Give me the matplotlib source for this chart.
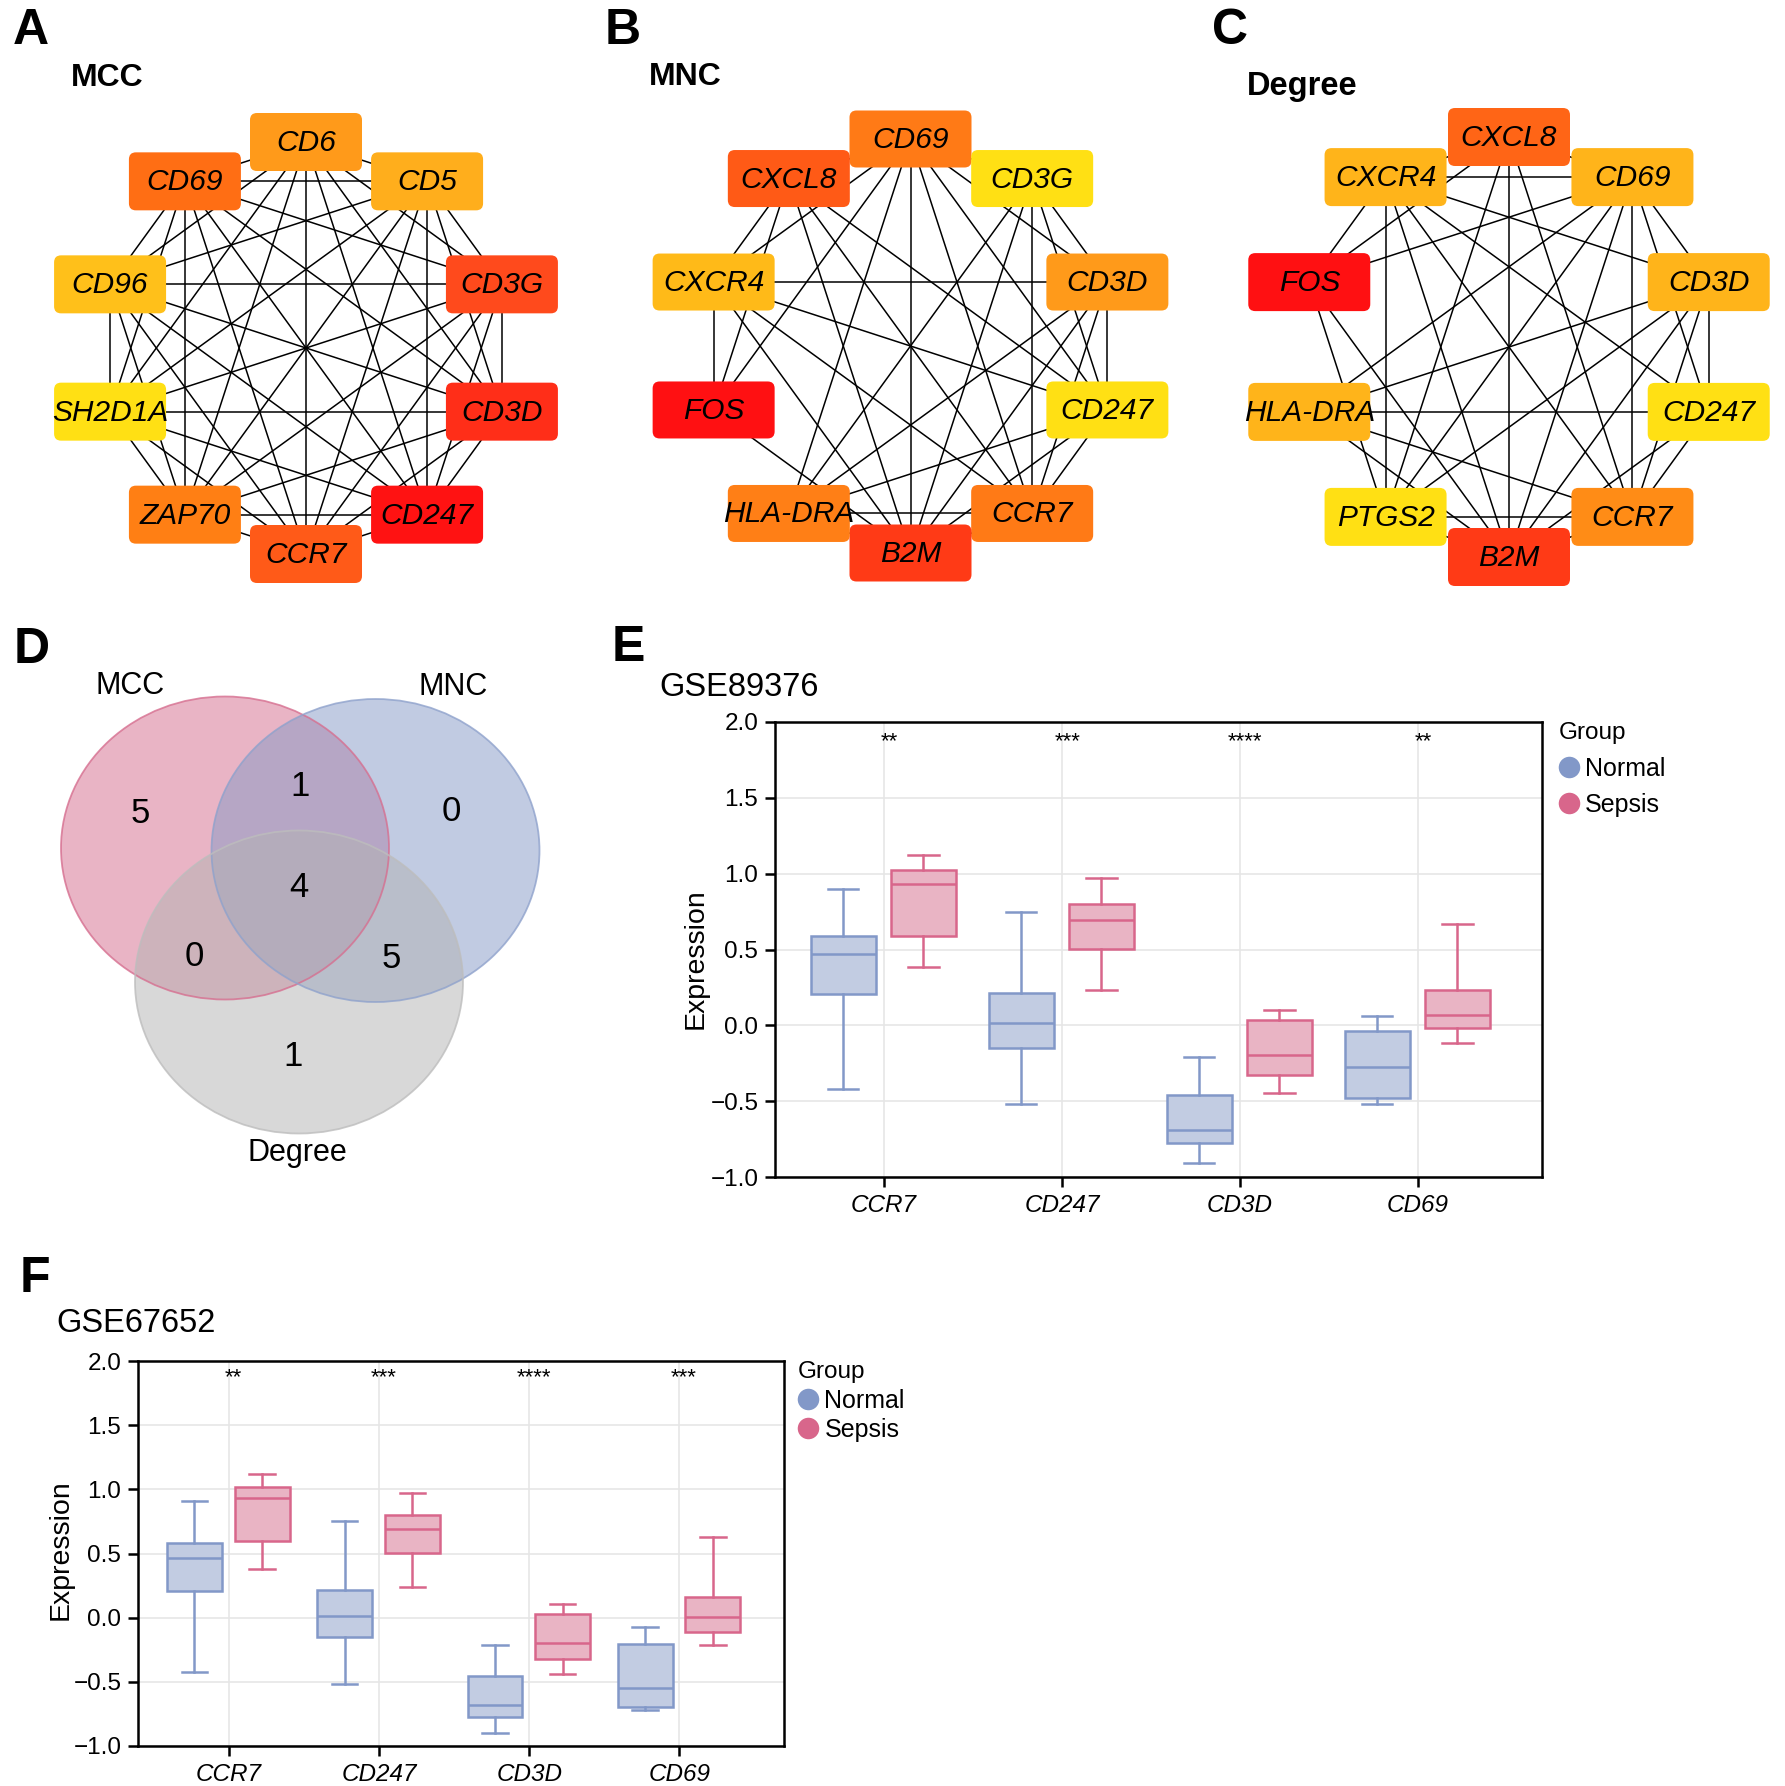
import numpy as np
import matplotlib
matplotlib.use('Agg')
import matplotlib.pyplot as plt
from matplotlib.patches import FancyBboxPatch, Ellipse
from matplotlib.lines import Line2D

plt.rcParams['font.family'] = ['Liberation Sans', 'DejaVu Sans']

# ---------------- data ----------------
mcc_genes = ['CD6', 'CD5', 'CD3G', 'CD3D', 'CD247', 'CCR7', 'ZAP70', 'SH2D1A', 'CD96', 'CD69']
mcc_colors = ['#FF9A1A', '#FFAE1C', '#FF4A1C', '#FF2E18', '#FF1212', '#FF5A18', '#FF7F14', '#FFE014', '#FFC01A', '#FF6E14']
mcc_edges = [
    ('CD6', 'CD5'), ('CD6', 'CD3G'), ('CD6', 'CD3D'), ('CD6', 'CD247'), ('CD6', 'CCR7'), ('CD6', 'ZAP70'),
    ('CD6', 'SH2D1A'), ('CD6', 'CD96'), ('CD6', 'CD69'),
    ('CD5', 'CD3G'), ('CD5', 'CD3D'), ('CD5', 'CD247'), ('CD5', 'CCR7'), ('CD5', 'ZAP70'), ('CD5', 'SH2D1A'),
    ('CD5', 'CD96'), ('CD5', 'CD69'),
    ('CD3G', 'CD3D'), ('CD3G', 'CD247'), ('CD3G', 'CCR7'), ('CD3G', 'ZAP70'), ('CD3G', 'SH2D1A'), ('CD3G', 'CD96'),
    ('CD3G', 'CD69'),
    ('CD3D', 'CD247'), ('CD3D', 'CCR7'), ('CD3D', 'ZAP70'), ('CD3D', 'SH2D1A'), ('CD3D', 'CD96'), ('CD3D', 'CD69'),
    ('CD247', 'CCR7'), ('CD247', 'ZAP70'), ('CD247', 'SH2D1A'), ('CD247', 'CD96'), ('CD247', 'CD69'),
    ('CCR7', 'ZAP70'), ('CCR7', 'SH2D1A'), ('CCR7', 'CD96'), ('CCR7', 'CD69'),
    ('ZAP70', 'SH2D1A'), ('ZAP70', 'CD96'), ('ZAP70', 'CD69'),
    ('SH2D1A', 'CD96'), ('SH2D1A', 'CD69'),
    ('CD96', 'CD69'),
]

mnc_genes = ['CD69', 'CD3G', 'CD3D', 'CD247', 'CCR7', 'B2M', 'HLA-DRA', 'FOS', 'CXCR4', 'CXCL8']
mnc_colors = ['#FF7A16', '#FFE014', '#FF9A1A', '#FFE014', '#FF7A16', '#FF3A16', '#FF7F16', '#FF1012', '#FFBA18', '#FF5A16']
mnc_edges = [
    ('CD69', 'CD3G'), ('CD69', 'CD3D'), ('CD69', 'CD247'), ('CD69', 'CCR7'), ('CD69', 'B2M'), ('CD69', 'HLA-DRA'),
    ('CD69', 'FOS'), ('CD69', 'CXCR4'), ('CD69', 'CXCL8'),
    ('CD3G', 'CD3D'), ('CD3G', 'CD247'), ('CD3G', 'CCR7'), ('CD3G', 'B2M'), ('CD3G', 'HLA-DRA'),
    ('CD3D', 'CD247'), ('CD3D', 'CCR7'), ('CD3D', 'B2M'), ('CD3D', 'HLA-DRA'), ('CD3D', 'CXCR4'),
    ('CD247', 'CCR7'), ('CD247', 'B2M'), ('CD247', 'HLA-DRA'), ('CD247', 'CXCR4'), ('CD247', 'CXCL8'),
    ('CCR7', 'B2M'), ('CCR7', 'HLA-DRA'), ('CCR7', 'CXCR4'), ('CCR7', 'CXCL8'),
    ('B2M', 'HLA-DRA'), ('B2M', 'FOS'), ('B2M', 'CXCR4'), ('B2M', 'CXCL8'),
    ('FOS', 'CXCR4'), ('FOS', 'CXCL8'),
    ('CXCR4', 'CXCL8'),
]

deg_genes = ['CXCL8', 'CD69', 'CD3D', 'CD247', 'CCR7', 'B2M', 'PTGS2', 'HLA-DRA', 'FOS', 'CXCR4']
deg_colors = ['#FF6516', '#FFB41A', '#FFB41A', '#FFE014', '#FF8C16', '#FF3A16', '#FFE014', '#FFB41A', '#FF1012', '#FFB41A']
deg_edges = [
    ('CXCL8', 'CD69'), ('CXCL8', 'CCR7'), ('CXCL8', 'B2M'), ('CXCL8', 'PTGS2'), ('CXCL8', 'FOS'), ('CXCL8', 'CXCR4'),
    ('CD69', 'CD3D'), ('CD69', 'CD247'), ('CD69', 'CCR7'), ('CD69', 'B2M'), ('CD69', 'PTGS2'), ('CD69', 'HLA-DRA'),
    ('CD69', 'FOS'), ('CD69', 'CXCR4'),
    ('CD3D', 'CD247'), ('CD3D', 'CCR7'), ('CD3D', 'B2M'), ('CD3D', 'PTGS2'), ('CD3D', 'HLA-DRA'), ('CD3D', 'CXCR4'),
    ('CD247', 'CCR7'), ('CD247', 'B2M'), ('CD247', 'HLA-DRA'), ('CD247', 'CXCR4'),
    ('CCR7', 'B2M'), ('CCR7', 'PTGS2'), ('CCR7', 'HLA-DRA'), ('CCR7', 'CXCR4'),
    ('B2M', 'PTGS2'), ('B2M', 'HLA-DRA'), ('B2M', 'FOS'), ('B2M', 'CXCR4'),
    ('PTGS2', 'FOS'), ('PTGS2', 'CXCR4'),
    ('FOS', 'CXCR4'),
]

venn_sets = ['MCC', 'MNC', 'Degree']
# region counts: MCC only, MCC&MNC, MNC only, all three, MCC&Degree, MNC&Degree, Degree only
venn_counts = [5, 1, 0, 4, 0, 5, 1]

box_genes = ['CCR7', 'CD247', 'CD3D', 'CD69']
groups = ['Normal', 'Sepsis']
# GSE89376: [whislo, q1, median, q3, whishi]
e_normal = [[-0.42, 0.205, 0.469, 0.586, 0.90],
            [-0.52, -0.152, 0.015, 0.211, 0.744],
            [-0.905, -0.775, -0.687, -0.458, -0.211],
            [-0.52, -0.476, -0.275, -0.035, 0.062]]
e_sepsis = [[0.383, 0.590, 0.934, 1.024, 1.121],
            [0.233, 0.502, 0.694, 0.797, 0.971],
            [-0.443, -0.328, -0.196, 0.033, 0.101],
            [-0.117, -0.015, 0.066, 0.231, 0.670]]
e_sig = ['**', '***', '****', '**']
# GSE67652
f_normal = [[-0.422, 0.206, 0.466, 0.581, 0.906],
            [-0.513, -0.151, 0.013, 0.214, 0.750],
            [-0.901, -0.776, -0.682, -0.453, -0.211],
            [-0.716, -0.693, -0.547, -0.206, -0.073]]
f_sepsis = [[0.380, 0.594, 0.930, 1.018, 1.120],
            [0.237, 0.505, 0.690, 0.799, 0.971],
            [-0.440, -0.323, -0.198, 0.026, 0.107],
            [-0.211, -0.112, 0.005, 0.161, 0.630]]
f_sig = ['**', '***', '****', '***']
y_ticks = [-1.0, -0.5, 0.0, 0.5, 1.0, 1.5, 2.0]

# ---------------- figure ----------------
W, H = 1785, 1786
fig = plt.figure(figsize=(W / 100, H / 100), dpi=100)


def px_axes(x0, y0, x1, y1):
    ax = fig.add_axes([x0 / W, 1 - y1 / H, (x1 - x0) / W, (y1 - y0) / H])
    ax.set_xlim(x0, x1)
    ax.set_ylim(y1, y0)
    ax.axis('off')
    return ax


def ftext(x, y, s, **kw):
    fig.text(x / W, 1 - y / H, s, **kw)


def draw_network(ax, cx, cy, R, genes, colors, edges, bw, bh):
    n = len(genes)
    ang = np.pi / 2 - 2 * np.pi * np.arange(n) / n
    pos = {g: (cx + R * np.cos(a), cy - R * np.sin(a)) for g, a in zip(genes, ang)}
    for a, b in edges:
        ax.plot([pos[a][0], pos[b][0]], [pos[a][1], pos[b][1]], color='black', lw=1.1, zorder=1)
    for g, c in zip(genes, colors):
        x, y = pos[g]
        ax.add_patch(FancyBboxPatch((x - bw / 2, y - bh / 2), bw, bh,
                                    boxstyle='round,pad=0,rounding_size=7', fc=c, ec='none', zorder=2))
        ax.text(x, y + 1, g, ha='center', va='center', fontsize=21.5, style='italic', zorder=3)


# panel letters
for lab, (x, y) in zip('ABCDEF', [(31, 31), (623, 31), (1230, 31), (32, 650), (628, 648), (35, 1279)]):
    ftext(x, y, lab, fontsize=36, fontweight='bold', ha='center', va='center')

# networks
axA = px_axes(0, 90, 620, 620)
draw_network(axA, 306, 348, 206, mcc_genes, mcc_colors, mcc_edges, 112, 58)
ftext(71, 78, 'MCC', fontsize=23, fontweight='bold', ha='left', va='center')

axB = px_axes(620, 90, 1230, 620)
draw_network(axB, 910.5, 346, 207, mnc_genes, mnc_colors, mnc_edges, 122, 57)
ftext(649, 77, 'MNC', fontsize=23, fontweight='bold', ha='left', va='center')

axC = px_axes(1230, 90, 1785, 620)
draw_network(axC, 1509, 347, 210, deg_genes, deg_colors, deg_edges, 122, 58)
ftext(1247, 86, 'Degree', fontsize=23.5, fontweight='bold', ha='left', va='center')

# Venn
axD = px_axes(0, 640, 620, 1180)
venn_geom = [(225, 848, '#D46A8C', '#D66F90'), (375.5, 850.5, '#8599C6', '#8FA2CC'), (299, 982, '#B3B3B3', '#BDBDBD')]
for (cx, cy, fc, ec) in venn_geom:
    axD.add_patch(Ellipse((cx, cy), 328, 303, fc=fc, ec='none', alpha=0.5, zorder=1))
for (cx, cy, fc, ec) in venn_geom:
    axD.add_patch(Ellipse((cx, cy), 328, 303, fc='none', ec=ec, lw=1.3, alpha=0.8, zorder=2))
count_pos = [(140, 814), (300, 787), (451, 812), (299, 888), (194, 956), (391, 959), (293, 1056)]
for (x, y), c in zip(count_pos, venn_counts):
    axD.text(x, y, str(c), fontsize=25, ha='center', va='center', zorder=3)
for (x, y), s in zip([(130, 686), (453, 687), (297, 1153)], venn_sets):
    axD.text(x, y, s, fontsize=22, ha='center', va='center', zorder=3)

# box plots
c_norm_edge, c_norm_fill = '#8298C8', '#C2CCE2'
c_seps_edge, c_seps_fill = '#D8668B', '#E9B4C4'


def draw_box(rect, normal, sepsis, sig, title, title_xy, xlim, ylab_x, ylab_y, leg_y, leg_spacing):
    x0, y0, x1, y1 = rect
    ax = fig.add_axes([x0 / W, 1 - y1 / H, (x1 - x0) / W, (y1 - y0) / H])
    pos = np.arange(len(box_genes))
    for vals, off, ec, fc in [(normal, -0.228, c_norm_edge, c_norm_fill), (sepsis, 0.222, c_seps_edge, c_seps_fill)]:
        stats = [dict(whislo=v[0], q1=v[1], med=v[2], q3=v[3], whishi=v[4], fliers=[]) for v in vals]
        ax.bxp(stats, positions=pos + off, widths=0.365, capwidths=0.17, patch_artist=True, showfliers=False,
               boxprops=dict(facecolor=fc, edgecolor=ec, linewidth=1.8),
               medianprops=dict(color=ec, linewidth=1.8),
               whiskerprops=dict(color=ec, linewidth=1.8),
               capprops=dict(color=ec, linewidth=1.8), manage_ticks=False, zorder=3)
    for p, s in zip(pos, sig):
        ax.text(p + 0.03, 1.87, s, fontsize=16, ha='center', va='center', zorder=4)
    ax.set_xlim(*xlim)
    ax.set_ylim(-1.0, 2.0)
    ax.set_xticks(pos)
    ax.set_xticklabels(box_genes, style='italic')
    ax.set_yticks(y_ticks)
    ax.set_yticklabels([f'{t:.1f}'.replace('-', '\u2212') for t in y_ticks])
    ax.grid(True, color='#E6E6E6', lw=1.2)
    ax.set_axisbelow(True)
    for sp in ax.spines.values():
        sp.set_linewidth(1.8)
    ax.tick_params(length=7, width=1.8, labelsize=17.5, pad=5, colors='black')
    ax.set_ylabel('Expression', fontsize=20.5)
    ax.yaxis.set_label_coords(ylab_x, ylab_y)
    fig.text(title_xy[0] / W, 1 - title_xy[1] / H, title, fontsize=23.5, ha='left', va='center')
    handles = [Line2D([], [], marker='o', ls='none', ms=15.5, mfc=c_norm_edge, mec='none'),
               Line2D([], [], marker='o', ls='none', ms=15.5, mfc=c_seps_edge, mec='none')]
    ax.legend(handles, groups, title='Group', loc='upper left', bbox_to_anchor=(1.022, leg_y),
              frameon=False, borderaxespad=0, borderpad=0, fontsize=18, title_fontsize=17.5,
              handlelength=0.8, handletextpad=0.25, labelspacing=leg_spacing, alignment='left')
    return ax


draw_box((775, 722, 1542, 1177), e_normal, e_sepsis, e_sig, 'GSE89376', (659, 687),
         (-0.612, 3.697), -0.087, 0.48, 1.0, 0.5)
draw_box((138, 1361, 784, 1746), f_normal, f_sepsis, f_sig, 'GSE67652', (56, 1324),
         (-0.604, 3.696), -0.10, 0.51, 1.0, 0.22)

fig.savefig('out.png', dpi=100)
